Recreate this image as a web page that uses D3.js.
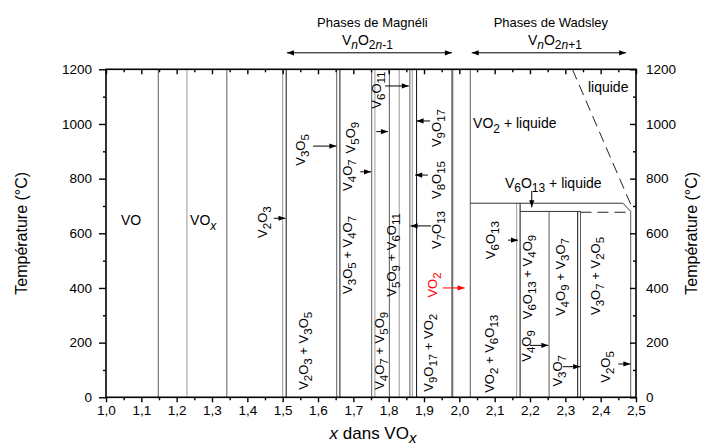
<!DOCTYPE html>
<html><head><meta charset="utf-8">
<script src="https://cdn.jsdelivr.net/npm/d3@7"></script>
<style>
body{margin:0;background:#fff}
text{font-family:"Liberation Sans",Arial,Helvetica,sans-serif;white-space:pre}
</style></head><body>
<svg id="c" width="707" height="448"></svg>
<script>
// ---------- data ----------
const xDomain = [1.0, 2.5];
const yDomain = [0, 1200];
const xTicks = [1.0,1.1,1.2,1.3,1.4,1.5,1.6,1.7,1.8,1.9,2.0,2.1,2.2,2.3,2.4,2.5];
const xMinorTicks = [1.05,1.15,1.25,1.35,1.45,1.55,1.65,1.75,1.85,1.95,2.05,2.15,2.25,2.35,2.45];
const yTicks = [0,200,400,600,800,1000,1200];
const yMinorTicks = [100,300,500,700,900,1100];

// phase boundaries: composition x, upper temperature, tone
const boundaryX    = [1.148,1.229,1.342,1.500,1.510,1.653,1.662,1.752,1.761,1.802,1.830,1.860,1.867,1.879,1.980,2.031,2.162,2.172,2.254,2.335,2.343,2.485];
const boundaryTop  = [1200,1200,1200,1200,1200,1200,1200,1200,1200,1200,1200,1200,1200,1200,1200,1200,710,710,680,680,680,680];
const boundaryTone = ["mid","light","mid","light","dark","mid","dark","mid","light","mid","light","mid","light","dark","thick","mid","light","dark","mid","dark","mid","mid"];

// horizontal / oblique boundaries (x, T)
const solidSegments = [
  [[2.031,710],[2.463,710]],
  [[2.463,710],[2.485,680]],
  [[2.172,680],[2.343,680]]
];
const dashedSegments = [
  [[2.343,677],[2.485,677]],
  [[2.320,1200],[2.487,700]]
];

// annotation arrows (x1,T1 -> x2,T2)
const arrows = [
  [1.475,655,1.508,655],
  [1.586,919,1.652,919],
  [1.720,825,1.750,825],
  [1.765,972,1.798,972],
  [1.790,1139,1.857,1139],
  [1.917,1011,1.879,1011],
  [1.911,813,1.875,813],
  [1.920,627,1.862,627],
  [2.205,755,2.205,695],
  [2.138,575,2.166,575],
  [2.200,190,2.252,190],
  [2.293,112,2.342,112],
  [2.450,122,2.484,122]
];
const redArrow = [1.953,400,2.015,400];

// rotated phase labels: text, x, T
const rotLabels = [
  ["V_{2}O_{3}",1.456,641],
  ["V_{3}O_{5}",1.563,905],
  ["V_{4}O_{7}",1.697,813],
  ["V_{5}O_{9}",1.705,950],
  ["V_{6}O_{11}",1.778,1124],
  ["V_{9}O_{17}",1.948,985],
  ["V_{8}O_{15}",1.948,795],
  ["V_{7}O_{13}",1.948,612],
  ["V_{3}O_{5} + V_{4}O_{7}",1.696,521],
  ["V_{5}O_{9} + V_{6}O_{11}",1.821,521],
  ["V_{2}O_{3} + V_{3}O_{5}",1.572,170],
  ["V_{4}O_{7} + V_{5}O_{9}",1.787,170],
  ["V_{9}O_{17} + VO_{2}",1.925,163],
  ["V_{6}O_{13}",2.101,575],
  ["VO_{2} + V_{6}O_{13}",2.098,159],
  ["V_{6}O_{13} + V_{4}O_{9}",2.206,440],
  ["V_{4}O_{9}",2.203,188],
  ["V_{4}O_{9} + V_{3}O_{7}",2.299,440],
  ["V_{3}O_{7}",2.290,97],
  ["V_{3}O_{7} + V_{2}O_{5}",2.398,444],
  ["V_{2}O_{5}",2.426,111]
];
const redLabel = ["VO_{2}",1.937,411];

// horizontal labels: text, x, T, anchor
const flatLabels = [
  ["VO",1.071,630,"middle"],
  ["VO_{*x*}",1.238,630,"start"],
  ["VO_{2} + liquide",2.039,985,"start"],
  ["liquide",2.364,1117,"start"],
  ["V_{6}O_{13} + liquide",2.129,766,"start"]
];

// header groups: title, formula, x-range
const headerTitles = ["Phases de Magnéli","Phases de Wadsley"];
const headerFormulas = ["V_{*n*}O_{2*n*-1}","V_{*n*}O_{2*n*+1}"];
const headerRanges = [[1.512,1.979],[2.035,2.472]];

// ---------- drawing ----------
const W=707,H=448;
const L=106,R=636,T=69.3,B=397.3;
const svg=d3.select("#c");
const x=d3.scaleLinear().domain(xDomain).range([L,R]);
const y=d3.scaleLinear().domain(yDomain).range([B,T]);
const fmt=d=>d.toFixed(1).replace(".",",");

function rich(sel,str,size,subSize,off){
  const re=/_\{([^}]*)\}|([^_]+)/g; let m; let shift=0;
  while((m=re.exec(str))){
    const isSub=m[1]!==undefined; const content=isSub?m[1]:m[2];
    const parts=content.split("*");
    parts.forEach((p,i)=>{
      if(!p) return;
      const target=isSub?off:0;
      const ts=sel.append("tspan").text(p).attr("font-size",isSub?subSize:size);
      if(target!==shift){ts.attr("dy",target-shift);shift=target;}
      if(i%2) ts.attr("font-style","italic");
    });
  }
}

const tones={dark:["#111",1],mid:["#5a5a5a",1],light:["#a8a8a8",1.2],thick:["#6e6e6e",2]};

// boundaries
const gB=svg.append("g");
boundaryX.forEach((bx,i)=>{
  const t=tones[boundaryTone[i]];
  gB.append("line").attr("x1",x(bx)).attr("x2",x(bx)).attr("y1",y(0)).attr("y2",y(boundaryTop[i]))
    .attr("stroke",t[0]).attr("stroke-width",t[1]);
});
const line=d3.line().x(d=>x(d[0])).y(d=>y(d[1]));
solidSegments.forEach(s=>gB.append("path").attr("d",line(s)).attr("fill","none").attr("stroke","#333").attr("stroke-width",1));
dashedSegments.forEach(s=>gB.append("path").attr("d",line(s)).attr("fill","none").attr("stroke","#222").attr("stroke-width",1).attr("stroke-dasharray","11,6"));

// arrows
function arrow(g,x1,y1,x2,y2,color,both){
  g.append("line").attr("x1",x1).attr("y1",y1).attr("x2",x2).attr("y2",y2).attr("stroke",color).attr("stroke-width",1);
  const head=(ax,ay,bx,by)=>{
    const a=Math.atan2(by-ay,bx-ax), len=7, w=2.6;
    const px=bx-len*Math.cos(a), py=by-len*Math.sin(a);
    const nx=-Math.sin(a)*w, ny=Math.cos(a)*w;
    g.append("path").attr("d",`M${bx},${by}L${px+nx},${py+ny}L${px-nx},${py-ny}Z`).attr("fill",color);
  };
  head(x1,y1,x2,y2);
  if(both) head(x2,y2,x1,y1);
}
const gA=svg.append("g");
arrows.forEach(a=>arrow(gA,x(a[0]),y(a[1]),x(a[2]),y(a[3]),"#000",false));
arrow(gA,x(redArrow[0]),y(redArrow[1]),x(redArrow[2]),y(redArrow[3]),"#f00",false);

// labels
const gL=svg.append("g");
rotLabels.forEach(l=>{
  const t=gL.append("text").attr("text-anchor","middle")
    .attr("transform",`translate(${x(l[1])},${y(l[2])}) rotate(-90)`).attr("fill","#000");
  rich(t,l[0],13,11.5,4);
});
{
  const t=gL.append("text").attr("text-anchor","middle")
    .attr("transform",`translate(${x(redLabel[1])},${y(redLabel[2])}) rotate(-90)`).attr("fill","#f00");
  rich(t,redLabel[0],13,11.5,4);
}
flatLabels.forEach(l=>{
  const t=gL.append("text").attr("text-anchor",l[3]).attr("x",x(l[1])).attr("y",y(l[2])).attr("fill","#000");
  rich(t,l[0],14,12,4.5);
});

// header
headerTitles.forEach((h,i)=>{
  const r=headerRanges[i];
  const cx=(x(r[0])+x(r[1]))/2;
  svg.append("text").attr("x",cx+(i?2:3)).attr("y",T-42).attr("text-anchor","middle").attr("font-size",13).text(h);
  const f=svg.append("text").attr("x",cx+(i?6:-2)).attr("y",T-24).attr("text-anchor","middle");
  rich(f,headerFormulas[i],14,12,4);
  arrow(svg,x(r[0]),T-16.5,x(r[1]),T-16.5,"#000",true);
});

// axes
const axG=svg.append("g");
axG.append("g").attr("transform",`translate(0,${B})`)
  .call(d3.axisBottom(x).tickValues(xTicks).tickFormat(fmt).tickSize(5).tickPadding(3));
axG.append("g").attr("transform",`translate(0,${B})`)
  .call(d3.axisBottom(x).tickValues(xMinorTicks).tickFormat("").tickSize(3));
axG.append("g").attr("transform",`translate(0,${T})`)
  .call(d3.axisTop(x).tickValues(xTicks).tickFormat("").tickSize(-5));
axG.append("g").attr("transform",`translate(0,${T})`)
  .call(d3.axisTop(x).tickValues(xMinorTicks).tickFormat("").tickSize(-3));
axG.append("g").attr("transform",`translate(${L},0)`)
  .call(d3.axisLeft(y).tickValues(yTicks).tickFormat(d3.format("d")).tickSize(7).tickPadding(7));
axG.append("g").attr("transform",`translate(${L},0)`)
  .call(d3.axisLeft(y).tickValues(yMinorTicks).tickFormat("").tickSize(3));
axG.append("g").attr("transform",`translate(${R},0)`)
  .call(d3.axisRight(y).tickValues(yTicks).tickFormat(d3.format("d")).tickSize(-6).tickPadding(10));
axG.append("g").attr("transform",`translate(${R},0)`)
  .call(d3.axisRight(y).tickValues(yMinorTicks).tickFormat("").tickSize(-3));
axG.selectAll(".domain").remove();
axG.selectAll(".tick line").attr("stroke","#000").attr("stroke-width",1.4);
axG.selectAll(".tick text").attr("font-size",13.5).attr("fill","#000").attr("font-family",'"Liberation Sans",Arial,sans-serif');
svg.append("rect").attr("x",L).attr("y",T).attr("width",R-L).attr("height",B-T)
  .attr("fill","none").attr("stroke","#000").attr("stroke-width",1.6);

// titles
const xt=svg.append("text").attr("x",(L+R)/2+2).attr("y",439).attr("text-anchor","middle");
rich(xt,"*x* dans VO_{*x*}",17,15,4);
svg.append("text").attr("transform",`translate(27,${(T+B)/2}) rotate(-90)`).attr("text-anchor","middle")
  .attr("font-size",16).text("Température (°C)");
svg.append("text").attr("transform",`translate(697,${(T+B)/2}) rotate(-90)`).attr("text-anchor","middle")
  .attr("font-size",16).text("Température (°C)");
</script>
</body></html>
